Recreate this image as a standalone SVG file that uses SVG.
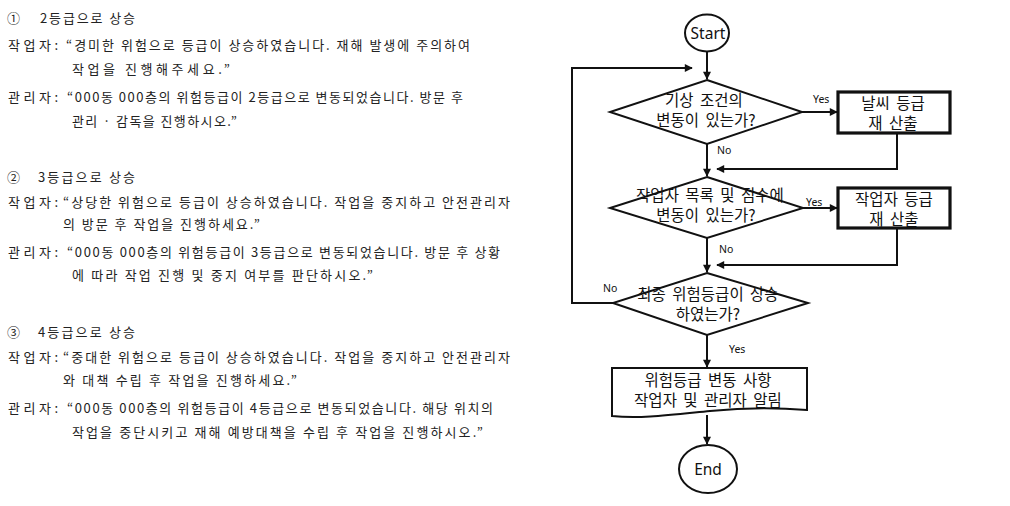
<svg xmlns="http://www.w3.org/2000/svg" width="1010" height="506" viewBox="0 0 1010 506">
<defs>
<marker id="ah" viewBox="0 0 10 10" refX="9" refY="5" markerWidth="9" markerHeight="8" markerUnits="userSpaceOnUse" orient="auto"><path d="M0,0 L10,5 L0,10 z" fill="#111"/></marker>
<style>
.t{font-family:"Noto Sans CJK KR","Noto Sans",sans-serif;font-size:13px;fill:#222}
.f{font-family:"Noto Sans CJK KR","Noto Sans",sans-serif;font-size:15.5px;word-spacing:3px;fill:#111;text-anchor:middle}
.lb{font-family:"Noto Sans","Noto Sans CJK KR",sans-serif;font-size:10.5px;fill:#111}
.sh{fill:#fff;stroke:#111;stroke-width:2}
.bx{fill:#fff;stroke:#111;stroke-width:3.2}
.cn{fill:none;stroke:#111;stroke-width:2}
</style>
</defs>
<rect width="1010" height="506" fill="#fff"/>
<g id="left-text">
<text class="t" x="7" y="23">①</text><text class="t" x="40" y="23" textLength="95" lengthAdjust="spacing">2등급으로 상승</text>
<text class="t" x="8" y="50" textLength="50" lengthAdjust="spacing">작업자:</text><text class="t" x="66" y="50" textLength="404" lengthAdjust="spacing">“경미한 위험으로 등급이 상승하였습니다. 재해 발생에 주의하여</text>
<text class="t" x="72" y="74" textLength="158" lengthAdjust="spacing">작업을 진행해주세요.”</text>
<text class="t" x="8" y="102" textLength="50" lengthAdjust="spacing">관리자:</text><text class="t" x="67" y="102" textLength="396" lengthAdjust="spacing">“000동 000층의 위험등급이 2등급으로 변동되었습니다. 방문 후</text>
<text class="t" x="72" y="126" textLength="165" lengthAdjust="spacing">관리 · 감독을 진행하시오.”</text>

<text class="t" x="7" y="182">②</text><text class="t" x="38" y="182" textLength="97" lengthAdjust="spacing">3등급으로 상승</text>
<text class="t" x="8" y="207" textLength="50" lengthAdjust="spacing">작업자:</text><text class="t" x="63" y="207" textLength="447" lengthAdjust="spacing">“상당한 위험으로 등급이 상승하였습니다. 작업을 중지하고 안전관리자</text>
<text class="t" x="63" y="229" textLength="197" lengthAdjust="spacing">의 방문 후 작업을 진행하세요.”</text>
<text class="t" x="8" y="257" textLength="50" lengthAdjust="spacing">관리자:</text><text class="t" x="67" y="257" textLength="433" lengthAdjust="spacing">“000동 000층의 위험등급이 3등급으로 변동되었습니다. 방문 후 상황</text>
<text class="t" x="72" y="280" textLength="301" lengthAdjust="spacing">에 따라 작업 진행 및 중지 여부를 판단하시오.”</text>

<text class="t" x="7" y="337">③</text><text class="t" x="38" y="337" textLength="97" lengthAdjust="spacing">4등급으로 상승</text>
<text class="t" x="8" y="362" textLength="50" lengthAdjust="spacing">작업자:</text><text class="t" x="63" y="362" textLength="447" lengthAdjust="spacing">“중대한 위험으로 등급이 상승하였습니다. 작업을 중지하고 안전관리자</text>
<text class="t" x="63" y="385" textLength="234" lengthAdjust="spacing">와 대책 수립 후 작업을 진행하세요.”</text>
<text class="t" x="8" y="413" textLength="50" lengthAdjust="spacing">관리자:</text><text class="t" x="67" y="413" textLength="426" lengthAdjust="spacing">“000동 000층의 위험등급이 4등급으로 변동되었습니다. 해당 위치의</text>
<text class="t" x="72" y="437" textLength="411" lengthAdjust="spacing">작업을 중단시키고 재해 예방대책을 수립 후 작업을 진행하시오.”</text>
</g>
<g id="connectors">
<path class="cn" d="M707,52 V79" marker-end="url(#ah)"/>
<path class="cn" d="M802,112 H837" marker-end="url(#ah)"/>
<path class="cn" d="M897,133 V169 H717" marker-end="url(#ah)"/>
<path class="cn" d="M707,144 V176" marker-end="url(#ah)"/>
<path class="cn" d="M803,208 H837" marker-end="url(#ah)"/>
<path class="cn" d="M897,228 V265 H717" marker-end="url(#ah)"/>
<path class="cn" d="M707,238 V272" marker-end="url(#ah)"/>
<path class="cn" d="M613,303 H572 V68 H692" marker-end="url(#ah)"/>
<path class="cn" d="M707,335 V367" marker-end="url(#ah)"/>
<path class="cn" d="M707,415 V444" marker-end="url(#ah)"/>
<text class="lb" x="813" y="103">Yes</text>
<text class="lb" x="717" y="154" font-size="11.5">No</text>
<text class="lb" x="806" y="206">Yes</text>
<text class="lb" x="719" y="253" font-size="11.5">No</text>
<text class="lb" x="603" y="292" font-size="11.5">No</text>
<text class="lb" x="729" y="353">Yes</text>
</g>
<g id="start">
<ellipse class="sh" cx="707" cy="33" rx="22" ry="18.5"/>
<text class="f" x="708" y="39" style="font-family:'Noto Sans',sans-serif" font-size="16">Start</text>
</g>
<g id="d1">
<polygon class="sh" points="707,80 802,112 707,144 610,112"/>
<text class="f" x="704" y="106">기상 조건의</text>
<text class="f" x="706" y="126">변동이 있는가?</text>
</g>
<g id="b1">
<rect class="bx" x="838" y="92" width="112" height="41"/>
<text class="f" x="893" y="109">날씨 등급</text>
<text class="f" x="893" y="129">재 산출</text>
</g>
<g id="d2">
<polygon class="sh" points="707,177 803,208 707,238 610,208"/>
<text class="f" x="710" y="201">작업자 목록 및 점수에</text>
<text class="f" x="706" y="221">변동이 있는가?</text>
</g>
<g id="b2">
<rect class="bx" x="838" y="188" width="112" height="40"/>
<text class="f" x="894" y="205">작업자 등급</text>
<text class="f" x="894" y="225">재 산출</text>
</g>
<g id="d3">
<polygon class="sh" points="707,273 808,303 707,335 613,303"/>
<text class="f" x="708" y="300">최종 위험등급이 상승</text>
<text class="f" x="708" y="320">하였는가?</text>
</g>
<g id="doc">
<path class="sh" stroke-width="2.5" d="M612,368 H807 V410 C770,407 740,408 710,411 C670,415 640,419 612,416 Z"/>
<text class="f" x="708" y="386">위험등급 변동 사항</text>
<text class="f" x="708" y="406">작업자 및 관리자 알림</text>
</g>
<g id="end">
<ellipse class="sh" cx="708" cy="469" rx="29" ry="24"/>
<text class="f" x="708" y="475" style="font-family:'Noto Sans',sans-serif" font-size="17">End</text>
</g>
</svg>
